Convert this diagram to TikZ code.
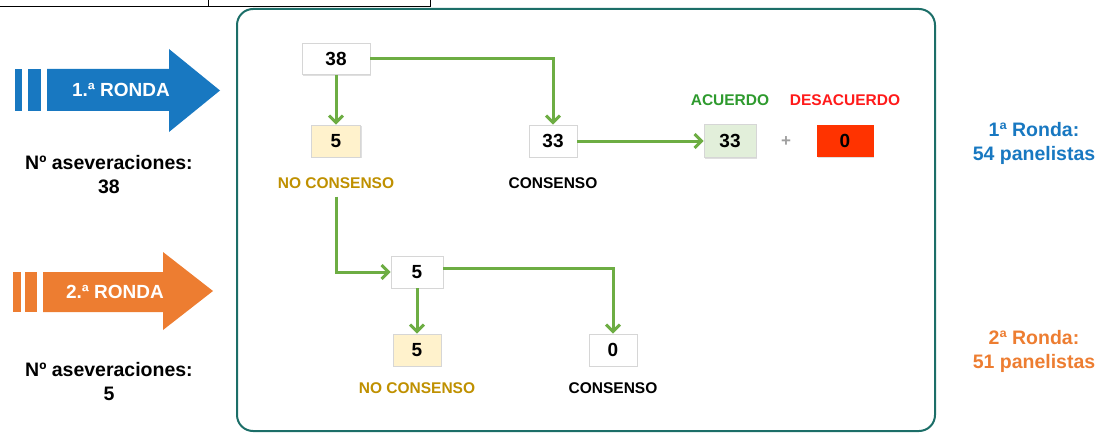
\documentclass[tikz,border=0pt]{standalone}
\usepackage{fontspec}
\setmainfont{Liberation Sans}
\usetikzlibrary{arrows.meta,shadows}
\definecolor{frameteal}{HTML}{1C6E68}
\definecolor{rblue}{HTML}{1878C1}
\definecolor{rorange}{HTML}{ED7D31}
\definecolor{flowgreen}{HTML}{6DAD43}
\definecolor{ncyellow}{HTML}{FFF2CC}
\definecolor{acgreen}{HTML}{E2EFDA}
\definecolor{desred}{HTML}{FF3300}
\definecolor{ncgold}{HTML}{BF9000}
\definecolor{actext}{HTML}{2E9A2E}
\definecolor{destext}{HTML}{FF1A1A}
\definecolor{boxgray}{HTML}{D6D6D6}
\begin{document}
\begin{tikzpicture}[x=1pt,y=-1pt,
  numbox/.style={draw=boxgray, line width=0.6pt, fill=white, minimum height=31pt, inner sep=0pt,
    font=\fontsize{19}{22}\selectfont\bfseries,
    drop shadow={shadow xshift=1.2pt, shadow yshift=-1.2pt, opacity=0.25}},
  lab/.style={font=\fontsize{15.5}{18}\selectfont\bfseries, inner sep=0pt},
  side/.style={font=\fontsize{19.5}{24}\selectfont\bfseries, align=center, inner sep=0pt},
  flow/.style={draw=flowgreen, line width=3pt, -{Straight Barb[length=7pt,width=14pt,line width=3pt]}},
  rtxt/.style={font=\fontsize{19}{22}\selectfont\bfseries, text=white, inner sep=0pt}
]
\useasboundingbox (0,0) rectangle (1102,433);

% table fragment at top
\draw[line width=1pt] (0,7) -- (430,7);
\draw[line width=1pt] (208,0) -- (208,7);
\draw[line width=1pt] (430,0) -- (430,7);

% frame
\draw[frameteal, line width=2pt, rounded corners=16pt] (237,9) rectangle (935,431);

% round arrows
\fill[rblue] (15,69) rectangle (22,111);
\fill[rblue] (28,69) rectangle (41,111);
\fill[rblue] (47,69) -- (169,69) -- (169,49) -- (220,90.5) -- (169,132) -- (169,111) -- (47,111) -- cycle;
\node[rtxt] (r1) at (121,90) {1.ª RONDA};

\fill[rorange] (13,272) rectangle (21,312);
\fill[rorange] (25,272) rectangle (37,312);
\fill[rorange] (43,272) -- (163,272) -- (163,252) -- (213,291) -- (163,330) -- (163,312) -- (43,312) -- cycle;
\node[rtxt] (r2) at (115,292) {2.ª RONDA};

% left captions
\node[side] (as1) at (109,175) {Nº aseveraciones:\\38};
\node[side] (as2) at (109,382) {Nº aseveraciones:\\5};

% right captions
\node[side, text=rblue] (p1) at (1034,143) {1ª Ronda:\\54 panelistas};
\node[side, text=rorange] (p2) at (1034,351) {2ª Ronda:\\51 panelistas};

% round 1 boxes
\node[numbox, minimum width=68pt] (n38) at (336,59) {38};
\node[numbox, minimum width=49pt, fill=ncyellow, minimum height=32pt] (nc5) at (336,141) {5};
\node[lab, text=ncgold] (nclab) at (336,183) {NO CONSENSO};
\node[numbox, minimum width=48pt, minimum height=32pt] (c33) at (553,141) {33};
\node[lab] (clab) at (553,183) {CONSENSO};
\node[numbox, minimum width=52pt, minimum height=33pt, fill=acgreen] (ac33) at (730,141) {33};
\node[numbox, minimum width=56pt, fill=desred, draw=desred] (de0) at (845,141) {0};
\node[lab, text=actext] (aclab) at (730,100) {ACUERDO};
\node[lab, text=destext] (delab) at (845,100) {DESACUERDO};
\node[font=\fontsize{17}{18}\selectfont\bfseries, text=gray!75, inner sep=0pt] (plus) at (786,142) {+};

% round 2 boxes
\node[numbox, minimum width=52pt, minimum height=32pt] (r5) at (417,272) {5};
\node[numbox, minimum width=48pt, minimum height=32pt, fill=ncyellow] (y5) at (417,350) {5};
\node[lab, text=ncgold] (nclab2) at (417,388) {NO CONSENSO};
\node[numbox, minimum width=48pt, minimum height=32pt] (z0) at (613,350) {0};
\node[lab] (clab2) at (613,388) {CONSENSO};

% connectors
\draw[flow] (n38.east) -| (c33.north);
\draw[flow] (n38.south) -- (nc5.north);
\draw[flow] (c33.east) -- (ac33.west);
\draw[flow] ([yshift=-8pt]nclab.south) |- (r5.west);
\draw[flow] ([yshift=4pt]r5.east) -| (z0.north);
\draw[flow] (r5.south) -- (y5.north);
\end{tikzpicture}
\end{document}
